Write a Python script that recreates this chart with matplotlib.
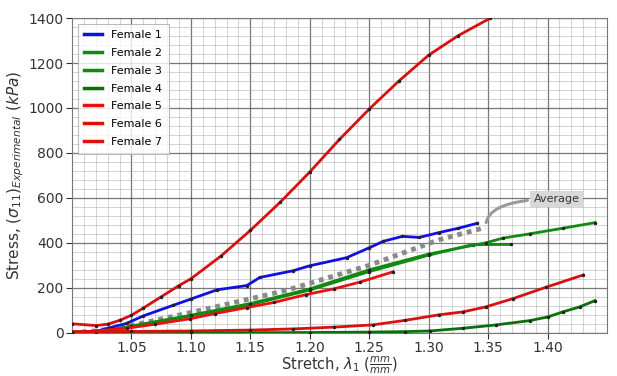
import matplotlib
matplotlib.use("Agg")
import matplotlib.pyplot as plt
from matplotlib.ticker import MultipleLocator

# ---- data ----
f1_x = [1.00, 1.02, 1.03, 1.046, 1.06, 1.085, 1.10, 1.122, 1.147, 1.158, 1.186, 1.20, 1.231, 1.25, 1.262, 1.278, 1.292, 1.309, 1.325, 1.341]
f1_y = [0, 5, 20, 42, 75, 122, 150, 191, 210, 246, 276, 298, 334, 378, 407, 429, 424, 446, 465, 487]

f2_x = [1.00, 1.03, 1.05, 1.10, 1.15, 1.20, 1.25, 1.30, 1.337, 1.3695]
f2_y = [0, 10, 28, 75, 125, 190, 272, 345, 392, 393]

f3_x = [1.00, 1.03, 1.05, 1.10, 1.15, 1.20, 1.25, 1.30, 1.348, 1.3625, 1.385, 1.413, 1.44]
f3_y = [0, 10, 30, 78, 130, 195, 280, 350, 400, 421, 440, 465, 490]

f4_x = [1.00, 1.10, 1.20, 1.25, 1.28, 1.301, 1.329, 1.357, 1.385, 1.40, 1.413, 1.427, 1.44]
f4_y = [0, 0, 1, 3, 5, 8, 20, 35, 54, 70, 93, 115, 143]

f5_x = [1.00, 1.02, 1.046, 1.07, 1.099, 1.12, 1.147, 1.17, 1.197, 1.22, 1.242, 1.27]
f5_y = [2, 8, 20, 38, 62, 85, 112, 135, 170, 195, 225, 271]

f6_x = [1.00, 1.05, 1.10, 1.15, 1.186, 1.22, 1.253, 1.28, 1.309, 1.329, 1.348, 1.371, 1.399, 1.43]
f6_y = [5, 6, 8, 12, 17, 25, 35, 55, 80, 93, 115, 152, 203, 257]

f7_x = [1.00, 1.02, 1.03, 1.04, 1.05, 1.06, 1.075, 1.09, 1.10, 1.125, 1.15, 1.175, 1.20, 1.225, 1.25, 1.275, 1.30, 1.325, 1.352]
f7_y = [40, 32, 38, 55, 78, 110, 160, 210, 240, 340, 455, 580, 715, 860, 995, 1120, 1235, 1322, 1400]

avg_x = [1.00, 1.02, 1.046, 1.10, 1.18, 1.25, 1.309, 1.348]
avg_y = [0, 8, 28, 90, 188, 300, 414, 469]

series = [
    ("Female 1", f1_x, f1_y, "#1010e0"),
    ("Female 2", f2_x, f2_y, "#108a10"),
    ("Female 3", f3_x, f3_y, "#108a10"),
    ("Female 4", f4_x, f4_y, "#0a700a"),
    ("Female 5", f5_x, f5_y, "#e81010"),
    ("Female 6", f6_x, f6_y, "#d81010"),
    ("Female 7", f7_x, f7_y, "#d81010"),
]

xtick_vals = [1.05, 1.10, 1.15, 1.20, 1.25, 1.30, 1.35, 1.40]
ytick_vals = [0, 200, 400, 600, 800, 1000, 1200, 1400]

fig = plt.figure(figsize=(6.17, 3.76), dpi=100)
ax = fig.add_axes([0.1167, 0.115, 0.867, 0.837])

ax.set_xlim(1.0, 1.45)
ax.set_ylim(0, 1400)
ax.set_xticks(xtick_vals)
ax.set_xticklabels([f"{v:.2f}" for v in xtick_vals])
ax.set_yticks(ytick_vals)
ax.xaxis.set_minor_locator(MultipleLocator(0.01))
ax.yaxis.set_minor_locator(MultipleLocator(40))
ax.grid(which="major", color="#555555", lw=0.9, alpha=0.8)
ax.grid(which="minor", color="#aaaaaa", lw=0.6, alpha=0.6)
ax.set_axisbelow(True)
ax.tick_params(which="minor", length=0)
ax.tick_params(which="major", labelsize=10, colors="#333333", length=4, pad=2)
for s in ax.spines.values():
    s.set_color("#777777")

ax.plot(avg_x, avg_y, color="#8a8a8a", lw=3.5, ls=(0, (1, 1)), zorder=2)

for name, xs, ys, c in series:
    ax.plot(xs, ys, color=c, lw=2, marker=".", markersize=3,
            markerfacecolor="#222222", markeredgecolor="#222222", label=name, zorder=3)

ax.annotate("Average", xy=(1.348, 472), xytext=(1.4076, 595),
            fontsize=8, color="#333333", ha="center", va="center",
            bbox=dict(boxstyle="square,pad=0.3", fc="#d8d8d8", ec="none"),
            arrowprops=dict(arrowstyle="-", color="#999999", lw=2.2,
                            connectionstyle="angle3,angleA=0,angleB=90",
                            shrinkA=2, shrinkB=3))

leg = ax.legend(loc="upper left", fontsize=8, frameon=True, fancybox=False,
                handlelength=1.6, borderpad=0.6, labelspacing=0.7,
                bbox_to_anchor=(0.0, 1.0))
leg.get_frame().set_edgecolor("#aaaaaa")
leg.get_frame().set_linewidth(0.8)
for h in leg.legend_handles:
    h.set_marker("")
    h.set_linewidth(2.5)

ax.set_xlabel(r"Stretch, $\lambda_1\ (\frac{mm}{mm})$", fontsize=10.5, color="#333333", labelpad=0)
ax.set_ylabel(r"Stress, $(\sigma_{11})_{Experimental}\ (kPa)$", fontsize=11, color="#333333", labelpad=2)

fig.savefig("out.png", dpi=100)
